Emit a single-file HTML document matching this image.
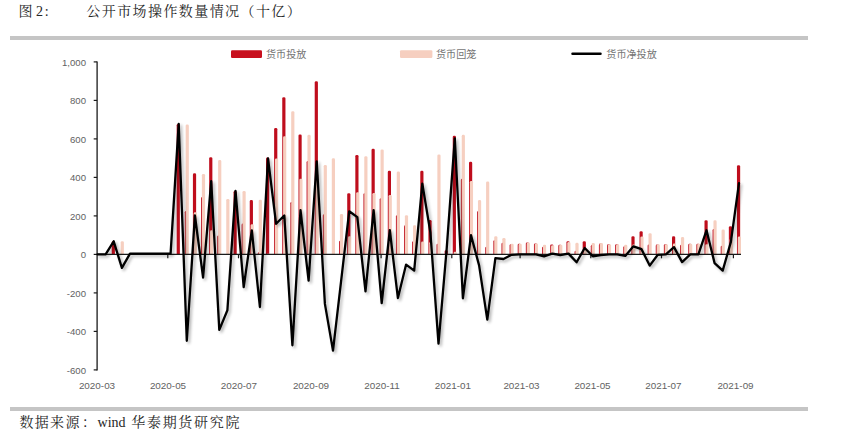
<!DOCTYPE html>
<html lang="zh-CN">
<head>
<meta charset="utf-8">
<title>图 2: 公开市场操作数量情况（十亿）</title>
<style>
html,body{margin:0;padding:0;background:#fff;}
body{width:843px;height:437px;position:relative;overflow:hidden;font-family:"Liberation Sans","Noto Sans CJK SC",sans-serif;}
.ttl{position:absolute;top:0;height:23px;line-height:23px;font-family:"Liberation Serif","Noto Serif CJK SC",serif;font-size:14px;color:#262626;white-space:pre;}
.rule{position:absolute;left:10px;width:798px;height:4px;background:#c5c5c5;}
.src{position:absolute;left:19.5px;top:411px;height:23px;line-height:23px;font-family:"Liberation Serif","Noto Serif CJK SC",serif;font-size:14px;color:#262626;white-space:pre;}
svg{position:absolute;left:0;top:0;}
svg text{font-family:"Liberation Sans","Noto Sans CJK SC",sans-serif;font-size:9.6px;fill:#626262;}
svg text.lg{font-size:10.1px;fill:#747474;}
</style>
</head>
<body>
<div class="ttl" style="left:18.5px;">图 2<span style="margin-left:1.8px">:</span></div>
<div class="ttl" style="left:86.3px;letter-spacing:1.42px;">公开市场操作数量情况（十亿）</div>
<div class="rule" style="top:36px;"></div>
<div class="rule" style="top:407px;"></div>
<div class="src" style="letter-spacing:1.3px;">数据来源</div>
<div class="src" style="left:82px;">：</div>
<div class="src" style="left:97.6px;">wind</div>
<div class="src" style="left:131.2px;letter-spacing:1.72px;">华泰期货研究院</div>
<svg width="843" height="437" viewBox="0 0 843 437">
<defs>
<filter id="sh" x="-5%" y="-5%" width="110%" height="110%">
<feGaussianBlur in="SourceAlpha" stdDeviation="1.6"/>
<feOffset dx="2.4" dy="2.4" result="o"/>
<feComponentTransfer><feFuncA type="linear" slope="0.30"/></feComponentTransfer>
<feMerge><feMergeNode/><feMergeNode in="SourceGraphic"/></feMerge>
</filter>
<filter id="bl" x="-2%" y="-2%" width="104%" height="104%"><feGaussianBlur stdDeviation="0.4"/></filter>
</defs>
<!-- legend -->
<rect x="231" y="50.3" width="31" height="7.6" rx="1.2" fill="#c8101e"/>
<text class="lg" x="266" y="57.6">货币投放</text>
<rect x="400" y="50.3" width="32.4" height="7.6" rx="1.2" fill="#f6cfc0"/>
<text class="lg" x="436" y="57.6">货币回笼</text>
<line x1="572.5" x2="600.5" y1="53.7" y2="53.7" stroke="#000" stroke-width="2.5" stroke-linecap="round"/>
<text class="lg" x="606.3" y="57.6">货币净投放</text>
<!-- bars -->
<g filter="url(#bl)">
<path d="M111.72 254.40V242.61Q111.72 241.31 113.02 241.31H113.62Q114.92 241.31 114.92 242.61V254.40Z" fill="#bf0f1f"/>
<path d="M120.68 254.40V242.61Q120.68 241.31 121.98 241.31H122.58Q123.88 241.31 123.88 242.61V254.40Z" fill="#f6cfc0"/>
<path d="M176.68 254.40V125.18Q176.68 123.88 177.98 123.88H178.58Q179.88 123.88 179.88 125.18V254.40Z" fill="#bf0f1f"/>
<path d="M184.80 254.40V212.20Q184.80 210.90 186.10 210.90H186.70Q188.00 210.90 188.00 212.20V254.40Z" fill="#bf0f1f"/>
<path d="M185.64 254.40V125.76Q185.64 124.46 186.94 124.46H187.54Q188.84 124.46 188.84 125.76V254.40Z" fill="#f6cfc0"/>
<path d="M192.92 254.40V174.66Q192.92 173.36 194.22 173.36H194.82Q196.12 173.36 196.12 174.66V254.40Z" fill="#bf0f1f"/>
<path d="M193.76 254.40V213.54Q193.76 212.24 195.06 212.24H195.66Q196.96 212.24 196.96 213.54V254.40Z" fill="#f6cfc0"/>
<path d="M201.04 254.40V198.34Q201.04 197.03 202.34 197.03H202.94Q204.24 197.03 204.24 198.34V254.40Z" fill="#bf0f1f"/>
<path d="M201.88 254.40V175.24Q201.88 173.94 203.18 173.94H203.78Q205.08 173.94 205.08 175.24V254.40Z" fill="#f6cfc0"/>
<path d="M209.16 254.40V158.49Q209.16 157.19 210.46 157.19H211.06Q212.36 157.19 212.36 158.49V254.40Z" fill="#bf0f1f"/>
<path d="M210.00 254.40V231.64Q210.00 230.34 211.30 230.34H211.90Q213.20 230.34 213.20 231.64V254.40Z" fill="#f6cfc0"/>
<path d="M217.28 254.40V236.84Q217.28 235.53 218.58 235.53H219.18Q220.48 235.53 220.48 236.84V254.40Z" fill="#bf0f1f"/>
<path d="M218.12 254.40V161.38Q218.12 160.07 219.42 160.07H220.02Q221.32 160.07 221.32 161.38V254.40Z" fill="#f6cfc0"/>
<path d="M226.24 254.40V200.26Q226.24 198.96 227.54 198.96H228.14Q229.44 198.96 229.44 200.26V254.40Z" fill="#f6cfc0"/>
<path d="M233.52 254.40V192.18Q233.52 190.88 234.82 190.88H235.42Q236.72 190.88 236.72 192.18V254.40Z" fill="#bf0f1f"/>
<path d="M241.64 254.40V224.90Q241.64 223.60 242.94 223.60H243.54Q244.84 223.60 244.84 224.90V254.40Z" fill="#bf0f1f"/>
<path d="M242.48 254.40V192.18Q242.48 190.88 243.78 190.88H244.38Q245.68 190.88 245.68 192.18V254.40Z" fill="#f6cfc0"/>
<path d="M249.76 254.40V201.42Q249.76 200.12 251.06 200.12H251.66Q252.96 200.12 252.96 201.42V254.40Z" fill="#bf0f1f"/>
<path d="M250.60 254.40V225.48Q250.60 224.18 251.90 224.18H252.50Q253.80 224.18 253.80 225.48V254.40Z" fill="#f6cfc0"/>
<path d="M257.88 254.40V253.34Q257.88 252.28 258.94 252.28H260.02Q261.08 252.28 261.08 253.34V254.40Z" fill="#bf0f1f"/>
<path d="M258.72 254.40V201.03Q258.72 199.73 260.02 199.73H260.62Q261.92 199.73 261.92 201.03V254.40Z" fill="#f6cfc0"/>
<path d="M266.00 254.40V158.87Q266.00 157.57 267.30 157.57H267.90Q269.20 157.57 269.20 158.87V254.40Z" fill="#bf0f1f"/>
<path d="M266.84 254.40V254.11Q266.84 253.82 267.13 253.82H269.75Q270.04 253.82 270.04 254.11V254.40Z" fill="#f6cfc0"/>
<path d="M274.12 254.40V129.23Q274.12 127.93 275.42 127.93H276.02Q277.32 127.93 277.32 129.23V254.40Z" fill="#bf0f1f"/>
<path d="M274.96 254.40V159.84Q274.96 158.53 276.26 158.53H276.86Q278.16 158.53 278.16 159.84V254.40Z" fill="#f6cfc0"/>
<path d="M282.24 254.40V98.62Q282.24 97.32 283.54 97.32H284.14Q285.44 97.32 285.44 98.62V254.40Z" fill="#bf0f1f"/>
<path d="M283.08 254.40V137.50Q283.08 136.20 284.38 136.20H284.98Q286.28 136.20 286.28 137.50V254.40Z" fill="#f6cfc0"/>
<path d="M290.36 254.40V203.34Q290.36 202.04 291.66 202.04H292.26Q293.56 202.04 293.56 203.34V254.40Z" fill="#bf0f1f"/>
<path d="M291.20 254.40V112.48Q291.20 111.18 292.50 111.18H293.10Q294.40 111.18 294.40 112.48V254.40Z" fill="#f6cfc0"/>
<path d="M298.48 254.40V135.77Q298.48 134.47 299.78 134.47H300.38Q301.68 134.47 301.68 135.77V254.40Z" fill="#bf0f1f"/>
<path d="M299.32 254.40V180.05Q299.32 178.75 300.62 178.75H301.22Q302.52 178.75 302.52 180.05V254.40Z" fill="#f6cfc0"/>
<path d="M306.60 254.40V162.34Q306.60 161.04 307.90 161.04H308.50Q309.80 161.04 309.80 162.34V254.40Z" fill="#bf0f1f"/>
<path d="M307.44 254.40V136.16Q307.44 134.86 308.74 134.86H309.34Q310.64 134.86 310.64 136.16V254.40Z" fill="#f6cfc0"/>
<path d="M314.72 254.40V82.45Q314.72 81.15 316.02 81.15H316.62Q317.92 81.15 317.92 82.45V254.40Z" fill="#bf0f1f"/>
<path d="M315.56 254.40V175.43Q315.56 174.13 316.86 174.13H317.46Q318.76 174.13 318.76 175.43V254.40Z" fill="#f6cfc0"/>
<path d="M322.84 254.40V215.66Q322.84 214.36 324.14 214.36H324.74Q326.04 214.36 326.04 215.66V254.40Z" fill="#bf0f1f"/>
<path d="M323.68 254.40V166.19Q323.68 164.89 324.98 164.89H325.58Q326.88 164.89 326.88 166.19V254.40Z" fill="#f6cfc0"/>
<path d="M331.80 254.40V159.45Q331.80 158.15 333.10 158.15H333.70Q335.00 158.15 335.00 159.45V254.40Z" fill="#f6cfc0"/>
<path d="M339.08 254.40V242.03Q339.08 240.73 340.38 240.73H340.98Q342.28 240.73 342.28 242.03V254.40Z" fill="#bf0f1f"/>
<path d="M339.92 254.40V215.28Q339.92 213.97 341.22 213.97H341.82Q343.12 213.97 343.12 215.28V254.40Z" fill="#f6cfc0"/>
<path d="M347.20 254.40V194.49Q347.20 193.19 348.50 193.19H349.10Q350.40 193.19 350.40 194.49V254.40Z" fill="#bf0f1f"/>
<path d="M348.04 254.40V237.61Q348.04 236.31 349.34 236.31H349.94Q351.24 236.31 351.24 237.61V254.40Z" fill="#f6cfc0"/>
<path d="M355.32 254.40V156.18Q355.32 154.88 356.62 154.88H357.22Q358.52 154.88 358.52 156.18V254.40Z" fill="#bf0f1f"/>
<path d="M356.16 254.40V193.52Q356.16 192.22 357.46 192.22H358.06Q359.36 192.22 359.36 193.52V254.40Z" fill="#f6cfc0"/>
<path d="M363.44 254.40V194.49Q363.44 193.19 364.74 193.19H365.34Q366.64 193.19 366.64 194.49V254.40Z" fill="#bf0f1f"/>
<path d="M364.28 254.40V157.53Q364.28 156.23 365.58 156.23H366.18Q367.48 156.23 367.48 157.53V254.40Z" fill="#f6cfc0"/>
<path d="M371.56 254.40V150.02Q371.56 148.72 372.86 148.72H373.46Q374.76 148.72 374.76 150.02V254.40Z" fill="#bf0f1f"/>
<path d="M372.40 254.40V194.29Q372.40 192.99 373.70 192.99H374.30Q375.60 192.99 375.60 194.29V254.40Z" fill="#f6cfc0"/>
<path d="M379.68 254.40V199.49Q379.68 198.19 380.98 198.19H381.58Q382.88 198.19 382.88 199.49V254.40Z" fill="#bf0f1f"/>
<path d="M380.52 254.40V150.79Q380.52 149.49 381.82 149.49H382.42Q383.72 149.49 383.72 150.79V254.40Z" fill="#f6cfc0"/>
<path d="M387.80 254.40V171.96Q387.80 170.66 389.10 170.66H389.70Q391.00 170.66 391.00 171.96V254.40Z" fill="#bf0f1f"/>
<path d="M388.64 254.40V196.22Q388.64 194.92 389.94 194.92H390.54Q391.84 194.92 391.84 196.22V254.40Z" fill="#f6cfc0"/>
<path d="M395.92 254.40V216.43Q395.92 215.13 397.22 215.13H397.82Q399.12 215.13 399.12 216.43V254.40Z" fill="#bf0f1f"/>
<path d="M396.76 254.40V172.73Q396.76 171.43 398.06 171.43H398.66Q399.96 171.43 399.96 172.73V254.40Z" fill="#f6cfc0"/>
<path d="M404.04 254.40V226.63Q404.04 225.33 405.34 225.33H405.94Q407.24 225.33 407.24 226.63V254.40Z" fill="#bf0f1f"/>
<path d="M404.88 254.40V216.43Q404.88 215.13 406.18 215.13H406.78Q408.08 215.13 408.08 216.43V254.40Z" fill="#f6cfc0"/>
<path d="M412.16 254.40V242.61Q412.16 241.31 413.46 241.31H414.06Q415.36 241.31 415.36 242.61V254.40Z" fill="#bf0f1f"/>
<path d="M413.00 254.40V226.44Q413.00 225.14 414.30 225.14H414.90Q416.20 225.14 416.20 226.44V254.40Z" fill="#f6cfc0"/>
<path d="M420.28 254.40V171.96Q420.28 170.66 421.58 170.66H422.18Q423.48 170.66 423.48 171.96V254.40Z" fill="#bf0f1f"/>
<path d="M421.12 254.40V242.80Q421.12 241.50 422.42 241.50H423.02Q424.32 241.50 424.32 242.80V254.40Z" fill="#f6cfc0"/>
<path d="M428.40 254.40V221.24Q428.40 219.94 429.70 219.94H430.30Q431.60 219.94 431.60 221.24V254.40Z" fill="#bf0f1f"/>
<path d="M429.24 254.40V243.19Q429.24 241.89 430.54 241.89H431.14Q432.44 241.89 432.44 243.19V254.40Z" fill="#f6cfc0"/>
<path d="M436.52 254.40V245.11Q436.52 243.81 437.82 243.81H438.42Q439.72 243.81 439.72 245.11V254.40Z" fill="#bf0f1f"/>
<path d="M437.36 254.40V155.79Q437.36 154.49 438.66 154.49H439.26Q440.56 154.49 440.56 155.79V254.40Z" fill="#f6cfc0"/>
<path d="M444.64 254.40V251.47Q444.64 250.16 445.94 250.16H446.54Q447.84 250.16 447.84 251.47V254.40Z" fill="#bf0f1f"/>
<path d="M452.76 254.40V136.93Q452.76 135.63 454.06 135.63H454.66Q455.96 135.63 455.96 136.93V254.40Z" fill="#bf0f1f"/>
<path d="M453.60 254.40V253.01Q453.60 251.71 454.90 251.71H455.50Q456.80 251.71 456.80 253.01V254.40Z" fill="#f6cfc0"/>
<path d="M460.88 254.40V180.05Q460.88 178.75 462.18 178.75H462.78Q464.08 178.75 464.08 180.05V254.40Z" fill="#bf0f1f"/>
<path d="M461.72 254.40V136.16Q461.72 134.86 463.02 134.86H463.62Q464.92 134.86 464.92 136.16V254.40Z" fill="#f6cfc0"/>
<path d="M469.00 254.40V163.11Q469.00 161.81 470.30 161.81H470.90Q472.20 161.81 472.20 163.11V254.40Z" fill="#bf0f1f"/>
<path d="M469.84 254.40V182.36Q469.84 181.06 471.14 181.06H471.74Q473.04 181.06 473.04 182.36V254.40Z" fill="#f6cfc0"/>
<path d="M477.12 254.40V212.39Q477.12 211.09 478.42 211.09H479.02Q480.32 211.09 480.32 212.39V254.40Z" fill="#bf0f1f"/>
<path d="M477.96 254.40V201.42Q477.96 200.12 479.26 200.12H479.86Q481.16 200.12 481.16 201.42V254.40Z" fill="#f6cfc0"/>
<path d="M485.24 254.40V248.00Q485.24 246.70 486.54 246.70H487.14Q488.44 246.70 488.44 248.00V254.40Z" fill="#bf0f1f"/>
<path d="M486.08 254.40V182.74Q486.08 181.44 487.38 181.44H487.98Q489.28 181.44 489.28 182.74V254.40Z" fill="#f6cfc0"/>
<path d="M493.36 254.40V241.46Q493.36 240.16 494.66 240.16H495.26Q496.56 240.16 496.56 241.46V254.40Z" fill="#bf0f1f"/>
<path d="M494.20 254.40V237.61Q494.20 236.31 495.50 236.31H496.10Q497.40 236.31 497.40 237.61V254.40Z" fill="#f6cfc0"/>
<path d="M501.48 254.40V243.96Q501.48 242.66 502.78 242.66H503.38Q504.68 242.66 504.68 243.96V254.40Z" fill="#bf0f1f"/>
<path d="M502.32 254.40V239.34Q502.32 238.04 503.62 238.04H504.22Q505.52 238.04 505.52 239.34V254.40Z" fill="#f6cfc0"/>
<path d="M509.60 254.40V245.50Q509.60 244.20 510.90 244.20H511.50Q512.80 244.20 512.80 245.50V254.40Z" fill="#bf0f1f"/>
<path d="M510.44 254.40V245.11Q510.44 243.81 511.74 243.81H512.34Q513.64 243.81 513.64 245.11V254.40Z" fill="#f6cfc0"/>
<path d="M517.72 254.40V245.11Q517.72 243.81 519.02 243.81H519.62Q520.92 243.81 520.92 245.11V254.40Z" fill="#bf0f1f"/>
<path d="M518.56 254.40V245.11Q518.56 243.81 519.86 243.81H520.46Q521.76 243.81 521.76 245.11V254.40Z" fill="#f6cfc0"/>
<path d="M525.84 254.40V243.77Q525.84 242.47 527.14 242.47H527.74Q529.04 242.47 529.04 243.77V254.40Z" fill="#bf0f1f"/>
<path d="M526.68 254.40V243.77Q526.68 242.47 527.98 242.47H528.58Q529.88 242.47 529.88 243.77V254.40Z" fill="#f6cfc0"/>
<path d="M533.96 254.40V244.73Q533.96 243.43 535.26 243.43H535.86Q537.16 243.43 537.16 244.73V254.40Z" fill="#bf0f1f"/>
<path d="M534.80 254.40V244.73Q534.80 243.43 536.10 243.43H536.70Q538.00 243.43 538.00 244.73V254.40Z" fill="#f6cfc0"/>
<path d="M542.08 254.40V248.00Q542.08 246.70 543.38 246.70H543.98Q545.28 246.70 545.28 248.00V254.40Z" fill="#bf0f1f"/>
<path d="M542.92 254.40V246.08Q542.92 244.78 544.22 244.78H544.82Q546.12 244.78 546.12 246.08V254.40Z" fill="#f6cfc0"/>
<path d="M550.20 254.40V245.69Q550.20 244.39 551.50 244.39H552.10Q553.40 244.39 553.40 245.69V254.40Z" fill="#bf0f1f"/>
<path d="M551.04 254.40V246.46Q551.04 245.16 552.34 245.16H552.94Q554.24 245.16 554.24 246.46V254.40Z" fill="#f6cfc0"/>
<path d="M558.32 254.40V246.08Q558.32 244.78 559.62 244.78H560.22Q561.52 244.78 561.52 246.08V254.40Z" fill="#bf0f1f"/>
<path d="M559.16 254.40V246.08Q559.16 244.78 560.46 244.78H561.06Q562.36 244.78 562.36 246.08V254.40Z" fill="#f6cfc0"/>
<path d="M566.44 254.40V242.61Q566.44 241.31 567.74 241.31H568.34Q569.64 241.31 569.64 242.61V254.40Z" fill="#bf0f1f"/>
<path d="M567.28 254.40V243.38Q567.28 242.08 568.58 242.08H569.18Q570.48 242.08 570.48 243.38V254.40Z" fill="#f6cfc0"/>
<path d="M574.56 254.40V252.04Q574.56 250.74 575.86 250.74H576.46Q577.76 250.74 577.76 252.04V254.40Z" fill="#bf0f1f"/>
<path d="M575.40 254.40V244.15Q575.40 242.85 576.70 242.85H577.30Q578.60 242.85 578.60 244.15V254.40Z" fill="#f6cfc0"/>
<path d="M582.68 254.40V242.61Q582.68 241.31 583.98 241.31H584.58Q585.88 241.31 585.88 242.61V254.40Z" fill="#bf0f1f"/>
<path d="M583.52 254.40V248.96Q583.52 247.66 584.82 247.66H585.42Q586.72 247.66 586.72 248.96V254.40Z" fill="#f6cfc0"/>
<path d="M590.80 254.40V246.27Q590.80 244.97 592.10 244.97H592.70Q594.00 244.97 594.00 246.27V254.40Z" fill="#bf0f1f"/>
<path d="M591.64 254.40V244.34Q591.64 243.04 592.94 243.04H593.54Q594.84 243.04 594.84 244.34V254.40Z" fill="#f6cfc0"/>
<path d="M598.92 254.40V244.92Q598.92 243.62 600.22 243.62H600.82Q602.12 243.62 602.12 244.92V254.40Z" fill="#bf0f1f"/>
<path d="M599.76 254.40V244.34Q599.76 243.04 601.06 243.04H601.66Q602.96 243.04 602.96 244.34V254.40Z" fill="#f6cfc0"/>
<path d="M607.04 254.40V245.50Q607.04 244.20 608.34 244.20H608.94Q610.24 244.20 610.24 245.50V254.40Z" fill="#bf0f1f"/>
<path d="M607.88 254.40V245.50Q607.88 244.20 609.18 244.20H609.78Q611.08 244.20 611.08 245.50V254.40Z" fill="#f6cfc0"/>
<path d="M615.16 254.40V245.50Q615.16 244.20 616.46 244.20H617.06Q618.36 244.20 618.36 245.50V254.40Z" fill="#bf0f1f"/>
<path d="M616.00 254.40V245.50Q616.00 244.20 617.30 244.20H617.90Q619.20 244.20 619.20 245.50V254.40Z" fill="#f6cfc0"/>
<path d="M623.28 254.40V247.62Q623.28 246.31 624.58 246.31H625.18Q626.48 246.31 626.48 247.62V254.40Z" fill="#bf0f1f"/>
<path d="M624.12 254.40V246.08Q624.12 244.78 625.42 244.78H626.02Q627.32 244.78 627.32 246.08V254.40Z" fill="#f6cfc0"/>
<path d="M631.40 254.40V237.61Q631.40 236.31 632.70 236.31H633.30Q634.60 236.31 634.60 237.61V254.40Z" fill="#bf0f1f"/>
<path d="M632.24 254.40V245.69Q632.24 244.39 633.54 244.39H634.14Q635.44 244.39 635.44 245.69V254.40Z" fill="#f6cfc0"/>
<path d="M639.52 254.40V232.60Q639.52 231.30 640.82 231.30H641.42Q642.72 231.30 642.72 232.60V254.40Z" fill="#bf0f1f"/>
<path d="M640.36 254.40V237.80Q640.36 236.50 641.66 236.50H642.26Q643.56 236.50 643.56 237.80V254.40Z" fill="#f6cfc0"/>
<path d="M647.64 254.40V245.69Q647.64 244.39 648.94 244.39H649.54Q650.84 244.39 650.84 245.69V254.40Z" fill="#bf0f1f"/>
<path d="M648.48 254.40V234.53Q648.48 233.22 649.78 233.22H650.38Q651.68 233.22 651.68 234.53V254.40Z" fill="#f6cfc0"/>
<path d="M655.76 254.40V245.88Q655.76 244.58 657.06 244.58H657.66Q658.96 244.58 658.96 245.88V254.40Z" fill="#bf0f1f"/>
<path d="M656.60 254.40V245.50Q656.60 244.20 657.90 244.20H658.50Q659.80 244.20 659.80 245.50V254.40Z" fill="#f6cfc0"/>
<path d="M663.88 254.40V245.50Q663.88 244.20 665.18 244.20H665.78Q667.08 244.20 667.08 245.50V254.40Z" fill="#bf0f1f"/>
<path d="M664.72 254.40V245.50Q664.72 244.20 666.02 244.20H666.62Q667.92 244.20 667.92 245.50V254.40Z" fill="#f6cfc0"/>
<path d="M672.00 254.40V237.61Q672.00 236.31 673.30 236.31H673.90Q675.20 236.31 675.20 237.61V254.40Z" fill="#bf0f1f"/>
<path d="M672.84 254.40V244.92Q672.84 243.62 674.14 243.62H674.74Q676.04 243.62 676.04 244.92V254.40Z" fill="#f6cfc0"/>
<path d="M680.12 254.40V246.08Q680.12 244.78 681.42 244.78H682.02Q683.32 244.78 683.32 246.08V254.40Z" fill="#bf0f1f"/>
<path d="M680.96 254.40V238.38Q680.96 237.08 682.26 237.08H682.86Q684.16 237.08 684.16 238.38V254.40Z" fill="#f6cfc0"/>
<path d="M688.24 254.40V245.11Q688.24 243.81 689.54 243.81H690.14Q691.44 243.81 691.44 245.11V254.40Z" fill="#bf0f1f"/>
<path d="M689.08 254.40V245.11Q689.08 243.81 690.38 243.81H690.98Q692.28 243.81 692.28 245.11V254.40Z" fill="#f6cfc0"/>
<path d="M696.36 254.40V245.11Q696.36 243.81 697.66 243.81H698.26Q699.56 243.81 699.56 245.11V254.40Z" fill="#bf0f1f"/>
<path d="M697.20 254.40V245.11Q697.20 243.81 698.50 243.81H699.10Q700.40 243.81 700.40 245.11V254.40Z" fill="#f6cfc0"/>
<path d="M704.48 254.40V221.44Q704.48 220.13 705.78 220.13H706.38Q707.68 220.13 707.68 221.44V254.40Z" fill="#bf0f1f"/>
<path d="M705.32 254.40V245.50Q705.32 244.20 706.62 244.20H707.22Q708.52 244.20 708.52 245.50V254.40Z" fill="#f6cfc0"/>
<path d="M712.60 254.40V230.29Q712.60 228.99 713.90 228.99H714.50Q715.80 228.99 715.80 230.29V254.40Z" fill="#bf0f1f"/>
<path d="M713.44 254.40V221.63Q713.44 220.33 714.74 220.33H715.34Q716.64 220.33 716.64 221.63V254.40Z" fill="#f6cfc0"/>
<path d="M720.72 254.40V247.04Q720.72 245.74 722.02 245.74H722.62Q723.92 245.74 723.92 247.04V254.40Z" fill="#bf0f1f"/>
<path d="M721.56 254.40V230.87Q721.56 229.57 722.86 229.57H723.46Q724.76 229.57 724.76 230.87V254.40Z" fill="#f6cfc0"/>
<path d="M728.84 254.40V227.60Q728.84 226.30 730.14 226.30H730.74Q732.04 226.30 732.04 227.60V254.40Z" fill="#bf0f1f"/>
<path d="M729.68 254.40V240.11Q729.68 238.81 730.98 238.81H731.58Q732.88 238.81 732.88 240.11V254.40Z" fill="#f6cfc0"/>
<path d="M736.96 254.40V166.57Q736.96 165.27 738.26 165.27H738.86Q740.16 165.27 740.16 166.57V254.40Z" fill="#bf0f1f"/>
<path d="M737.80 254.40V237.80Q737.80 236.50 739.10 236.50H739.70Q741.00 236.50 741.00 237.80V254.40Z" fill="#f6cfc0"/>
</g>
<!-- axes -->
<line x1="97.1" x2="97.1" y1="61.4" y2="370.4" stroke="#1a1a1a" stroke-width="1.3"/>
<line x1="97.1" x2="741" y1="254.4" y2="254.4" stroke="#1a1a1a" stroke-width="1.3"/>
<line x1="93.7" x2="97.1" y1="61.9" y2="61.9" stroke="#1a1a1a" stroke-width="1.2"/>
<text x="86" y="65.8" text-anchor="end">1,000</text>
<line x1="93.7" x2="97.1" y1="100.4" y2="100.4" stroke="#1a1a1a" stroke-width="1.2"/>
<text x="86" y="104.3" text-anchor="end">800</text>
<line x1="93.7" x2="97.1" y1="138.9" y2="138.9" stroke="#1a1a1a" stroke-width="1.2"/>
<text x="86" y="142.8" text-anchor="end">600</text>
<line x1="93.7" x2="97.1" y1="177.4" y2="177.4" stroke="#1a1a1a" stroke-width="1.2"/>
<text x="86" y="181.3" text-anchor="end">400</text>
<line x1="93.7" x2="97.1" y1="215.9" y2="215.9" stroke="#1a1a1a" stroke-width="1.2"/>
<text x="86" y="219.8" text-anchor="end">200</text>
<line x1="93.7" x2="97.1" y1="254.4" y2="254.4" stroke="#1a1a1a" stroke-width="1.2"/>
<text x="86" y="258.3" text-anchor="end">0</text>
<line x1="93.7" x2="97.1" y1="292.9" y2="292.9" stroke="#1a1a1a" stroke-width="1.2"/>
<text x="86" y="296.8" text-anchor="end">-200</text>
<line x1="93.7" x2="97.1" y1="331.4" y2="331.4" stroke="#1a1a1a" stroke-width="1.2"/>
<text x="86" y="335.3" text-anchor="end">-400</text>
<line x1="93.7" x2="97.1" y1="369.9" y2="369.9" stroke="#1a1a1a" stroke-width="1.2"/>
<text x="86" y="373.8" text-anchor="end">-600</text>
<text x="97.0" y="389.3" text-anchor="middle" style="font-size:9.9px">2020-03</text>
<text x="168.0" y="389.3" text-anchor="middle" style="font-size:9.9px">2020-05</text>
<line x1="167.8" x2="167.8" y1="254.4" y2="258.3" stroke="#1a1a1a" stroke-width="1.2"/>
<text x="238.9" y="389.3" text-anchor="middle" style="font-size:9.9px">2020-07</text>
<line x1="238.5" x2="238.5" y1="254.4" y2="258.3" stroke="#1a1a1a" stroke-width="1.2"/>
<text x="311.0" y="389.3" text-anchor="middle" style="font-size:9.9px">2020-09</text>
<line x1="310.4" x2="310.4" y1="254.4" y2="258.3" stroke="#1a1a1a" stroke-width="1.2"/>
<text x="382.0" y="389.3" text-anchor="middle" style="font-size:9.9px">2020-11</text>
<line x1="381.1" x2="381.1" y1="254.4" y2="258.3" stroke="#1a1a1a" stroke-width="1.2"/>
<text x="452.9" y="389.3" text-anchor="middle" style="font-size:9.9px">2021-01</text>
<line x1="451.8" x2="451.8" y1="254.4" y2="258.3" stroke="#1a1a1a" stroke-width="1.2"/>
<text x="521.5" y="389.3" text-anchor="middle" style="font-size:9.9px">2021-03</text>
<line x1="520.1" x2="520.1" y1="254.4" y2="258.3" stroke="#1a1a1a" stroke-width="1.2"/>
<text x="592.5" y="389.3" text-anchor="middle" style="font-size:9.9px">2021-05</text>
<line x1="590.8" x2="590.8" y1="254.4" y2="258.3" stroke="#1a1a1a" stroke-width="1.2"/>
<text x="663.4" y="389.3" text-anchor="middle" style="font-size:9.9px">2021-07</text>
<line x1="661.5" x2="661.5" y1="254.4" y2="258.3" stroke="#1a1a1a" stroke-width="1.2"/>
<text x="735.5" y="389.3" text-anchor="middle" style="font-size:9.9px">2021-09</text>
<line x1="733.4" x2="733.4" y1="254.4" y2="258.3" stroke="#1a1a1a" stroke-width="1.2"/>
<!-- net line -->
<polyline points="97.5,254.4 105.6,254.4 113.7,241.3 121.9,267.9 130.0,253.6 138.1,253.6 146.2,253.6 154.3,253.6 162.5,253.6 170.6,253.6 178.7,123.9 186.8,340.8 194.9,215.5 203.1,277.5 211.2,181.2 219.3,329.9 227.4,310.2 235.5,190.9 243.7,287.1 251.8,230.3 259.9,307.0 268.0,158.3 276.1,223.8 284.3,215.5 292.4,345.3 300.5,210.1 308.6,280.6 316.7,161.4 324.9,303.9 333.0,350.6 341.1,281.2 349.2,211.3 357.3,217.1 365.5,291.4 373.6,210.1 381.7,303.1 389.8,230.1 397.9,298.1 406.1,264.6 414.2,270.6 422.3,183.6 430.4,232.5 438.5,343.7 446.7,248.6 454.8,138.3 462.9,298.3 471.0,235.2 479.1,265.4 487.3,319.7 495.4,258.2 503.5,259.0 511.6,254.8 519.7,254.4 527.9,254.4 536.0,254.4 544.1,256.3 552.2,253.6 560.3,255.0 568.5,253.6 576.6,262.3 584.7,248.0 592.8,256.3 600.9,255.0 609.1,254.4 617.2,254.4 625.3,255.9 633.4,246.3 641.5,249.2 649.7,265.6 657.8,254.8 665.9,254.4 674.0,247.1 682.1,262.1 690.3,254.4 698.4,254.4 706.5,230.3 714.6,263.1 722.7,270.6 730.9,241.9 739.0,183.2" fill="none" stroke="#000" stroke-width="2.3" stroke-linejoin="round" stroke-linecap="round" filter="url(#sh)"/>
</svg>
</body>
</html>
